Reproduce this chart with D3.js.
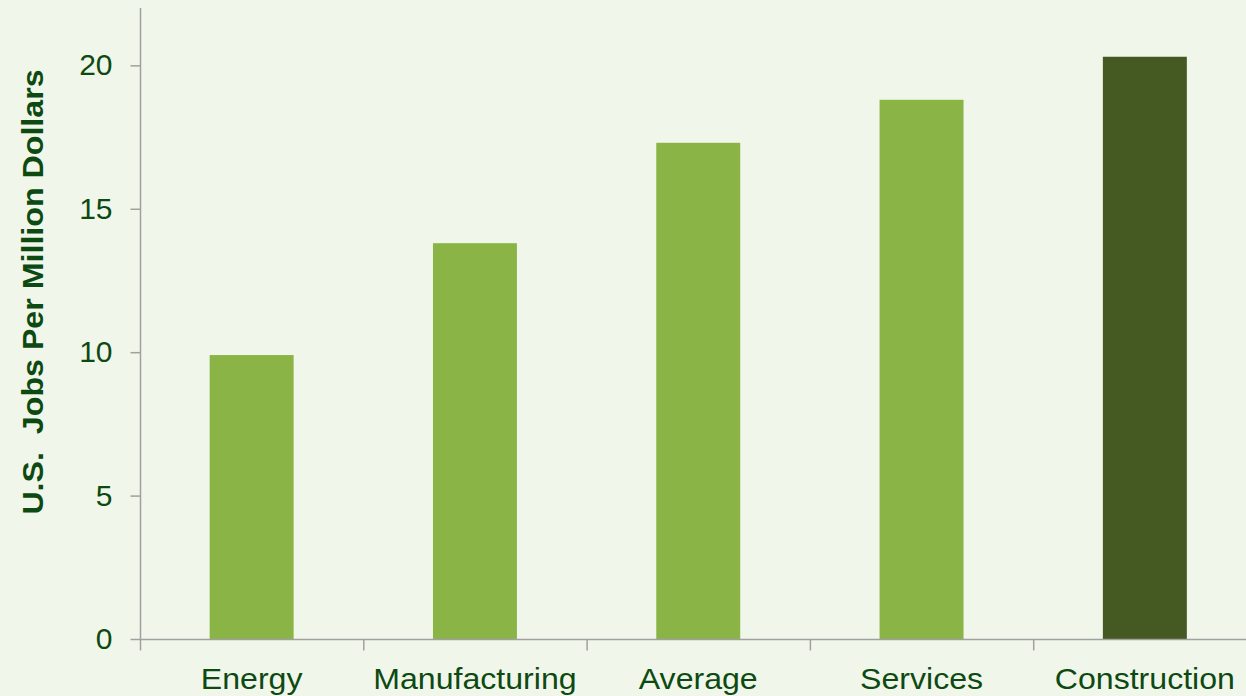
<!DOCTYPE html>
<html>
<head>
<meta charset="utf-8">
<script src="https://cdn.jsdelivr.net/npm/d3@7"></script>
<style>
  html, body { margin: 0; padding: 0; background: #f1f6ea; }
  svg { display: block; }
  text { font-family: "Liberation Sans", Arial, sans-serif; }
</style>
</head>
<body>
<svg id="chart" width="1246" height="696"></svg>
<script>
// Jobs supported per million dollars of spending, by sector
const categories = ["Energy", "Manufacturing", "Average", "Services", "Construction"];
const jobsPerMillion = [9.9, 13.8, 17.3, 18.8, 20.3];
const highlighted = ["Construction"];
const yTicks = [0, 5, 10, 15, 20];
const yLabel = "U.S.\u00a0\u00a0Jobs Per Million Dollars";

const W = 1246, H = 696;
const margin = { top: 8, left: 140, bottom: 57 };
const bandW = 223.3;

const svg = d3.select("#chart");
svg.append("rect").attr("width", W).attr("height", H).attr("fill", "#f1f6ea");

const x = d3.scaleBand()
  .domain(categories)
  .range([margin.left, margin.left + bandW * categories.length])
  .paddingInner(0.624).paddingOuter(0.312);

const y = d3.scaleLinear().domain([0, 22]).range([H - margin.bottom, margin.top]);

const textColor = "#0d4a12";
const axisColor = "#a0a0a0";

// bars
svg.append("g").selectAll("rect")
  .data(categories)
  .join("rect")
  .attr("x", d => x(d))
  .attr("width", x.bandwidth())
  .attr("y", (d, i) => y(jobsPerMillion[i]))
  .attr("height", (d, i) => y(0) - y(jobsPerMillion[i]))
  .attr("fill", d => highlighted.includes(d) ? "#445a22" : "#8ab446");

// y axis
const yAxis = svg.append("g")
  .attr("transform", `translate(${margin.left + 0.5},0)`)
  .call(d3.axisLeft(y).tickValues(yTicks).tickSize(10).tickPadding(18).tickFormat(d3.format("d")));
yAxis.select(".domain").attr("stroke", axisColor).attr("stroke-width", 1.5)
  .attr("d", `M0,${margin.top}V${H - margin.bottom}`);
yAxis.selectAll(".tick line").attr("stroke", axisColor).attr("stroke-width", 1.5);
yAxis.selectAll(".tick text").attr("fill", textColor).style("font-size", "30px");

// x axis with ticks at the band boundaries
const xg = svg.append("g").attr("transform", `translate(0,${y(0) + 0.5})`);
xg.append("line")
  .attr("x1", margin.left).attr("x2", W)
  .attr("stroke", axisColor).attr("stroke-width", 1.5);
const bounds = d3.range(categories.length + 1).map(i => margin.left + i * bandW);
xg.selectAll("line.tk").data(bounds).join("line")
  .attr("class", "tk")
  .attr("x1", d => d + 0.5).attr("x2", d => d + 0.5)
  .attr("y1", 0).attr("y2", 11)
  .attr("stroke", axisColor).attr("stroke-width", 1.5);
xg.selectAll("text").data(categories).join("text")
  .attr("transform", d => `translate(${x(d) + x.bandwidth() / 2},49) scale(1.07,1)`)
  .attr("text-anchor", "middle")
  .attr("fill", textColor)
  .style("font-size", "30px")
  .text(d => d);

// y axis title
svg.append("text")
  .attr("transform", "translate(43,292) rotate(-90) scale(1.11,1)")
  .attr("text-anchor", "middle")
  .attr("fill", textColor)
  .style("font-size", "29px")
  .style("font-weight", "bold")
  .text(yLabel);
</script>
</body>
</html>
